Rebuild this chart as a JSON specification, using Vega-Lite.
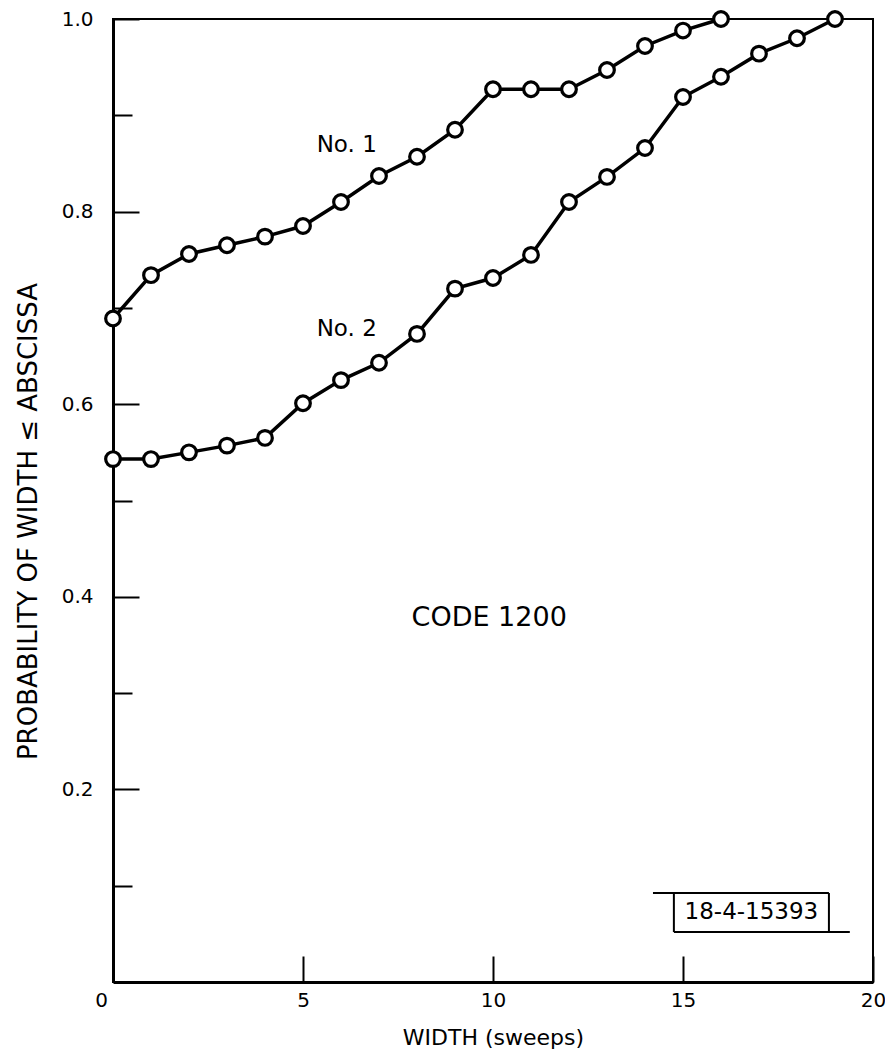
{
  "$schema": "https://vega.github.io/schema/vega-lite/v6.json",
  "width": 760,
  "height": 963,
  "autosize": {"type": "none"},
  "padding": {"left": 113, "top": 19, "right": 12, "bottom": 81},
  "background": "white",
  "config": {
    "view": {"stroke": "black", "strokeWidth": 2},
    "font": "DejaVu Sans",
    "axis": {
      "domainColor": "black",
      "domainWidth": 3,
      "tickColor": "black",
      "tickWidth": 2,
      "labelColor": "black",
      "titleColor": "black",
      "labelFont": "DejaVu Sans",
      "titleFont": "DejaVu Sans",
      "titleFontWeight": "normal",
      "grid": false
    }
  },
  "datasets": {
    "curves": [
      {"series": "No. 1", "width": 0, "p": 0.689},
      {"series": "No. 1", "width": 1, "p": 0.734},
      {"series": "No. 1", "width": 2, "p": 0.756},
      {"series": "No. 1", "width": 3, "p": 0.765},
      {"series": "No. 1", "width": 4, "p": 0.774},
      {"series": "No. 1", "width": 5, "p": 0.785},
      {"series": "No. 1", "width": 6, "p": 0.81},
      {"series": "No. 1", "width": 7, "p": 0.837},
      {"series": "No. 1", "width": 8, "p": 0.857},
      {"series": "No. 1", "width": 9, "p": 0.885},
      {"series": "No. 1", "width": 10, "p": 0.927},
      {"series": "No. 1", "width": 11, "p": 0.927},
      {"series": "No. 1", "width": 12, "p": 0.927},
      {"series": "No. 1", "width": 13, "p": 0.947},
      {"series": "No. 1", "width": 14, "p": 0.972},
      {"series": "No. 1", "width": 15, "p": 0.988},
      {"series": "No. 1", "width": 16, "p": 1.0},
      {"series": "No. 2", "width": 0, "p": 0.543},
      {"series": "No. 2", "width": 1, "p": 0.543},
      {"series": "No. 2", "width": 2, "p": 0.55},
      {"series": "No. 2", "width": 3, "p": 0.557},
      {"series": "No. 2", "width": 4, "p": 0.565},
      {"series": "No. 2", "width": 5, "p": 0.601},
      {"series": "No. 2", "width": 6, "p": 0.625},
      {"series": "No. 2", "width": 7, "p": 0.643},
      {"series": "No. 2", "width": 8, "p": 0.673},
      {"series": "No. 2", "width": 9, "p": 0.72},
      {"series": "No. 2", "width": 10, "p": 0.731},
      {"series": "No. 2", "width": 11, "p": 0.755},
      {"series": "No. 2", "width": 12, "p": 0.81},
      {"series": "No. 2", "width": 13, "p": 0.836},
      {"series": "No. 2", "width": 14, "p": 0.866},
      {"series": "No. 2", "width": 15, "p": 0.919},
      {"series": "No. 2", "width": 16, "p": 0.94},
      {"series": "No. 2", "width": 17, "p": 0.964},
      {"series": "No. 2", "width": 18, "p": 0.98},
      {"series": "No. 2", "width": 19, "p": 1.0}
    ],
    "notes": [
      {"width": 6.15, "p": 0.869, "text": "No. 1", "size": 23},
      {"width": 6.15, "p": 0.678, "text": "No. 2", "size": 23},
      {"width": 9.9, "p": 0.378, "text": "CODE 1200", "size": 27},
      {"width": 16.8, "p": 0.0725, "text": "18-4-15393", "size": 23}
    ],
    "stamp": [
      {"x1": 14.21, "x2": 18.84, "y1": 0.0924, "y2": 0.0924},
      {"x1": 14.76, "x2": 19.39, "y1": 0.0519, "y2": 0.0519},
      {"x1": 14.76, "x2": 14.76, "y1": 0.0519, "y2": 0.0924},
      {"x1": 18.84, "x2": 18.84, "y1": 0.0519, "y2": 0.0924}
    ]
  },
  "layer": [
    {
      "data": {"name": "curves"},
      "mark": {"type": "line", "color": "black", "strokeWidth": 3.5, "clip": false},
      "encoding": {
        "x": {
          "field": "width",
          "type": "quantitative",
          "scale": {"domain": [0, 20], "nice": false, "zero": false},
          "axis": {
            "title": "WIDTH (sweeps)",
            "titleFontSize": 22,
            "titlePadding": 17,
            "values": [0, 5, 10, 15, 20],
            "tickSize": -26,
            "labelFontSize": 20,
            "labelPadding": 34,
            "labelOffset": {"condition": {"test": "datum.value == 0", "value": -12}, "value": 0},
            "labelFlush": false
          }
        },
        "y": {
          "field": "p",
          "type": "quantitative",
          "scale": {"domain": [0, 1], "nice": false},
          "axis": {
            "title": "PROBABILITY OF WIDTH ≤ ABSCISSA",
            "titleFontSize": 26,
            "titlePadding": 20,
            "titleY": 502,
            "values": [0.1, 0.2, 0.3, 0.4, 0.5, 0.6, 0.7, 0.8, 0.9, 1.0],
            "tickSize": {"condition": {"test": "round(datum.value * 10) % 2 == 0", "value": -26}, "value": -19},
            "labelExpr": "round(datum.value * 10) % 2 == 0 ? format(datum.value, '.1f') : ''",
            "labelFontSize": 20,
            "labelPadding": 46,
            "labelFlush": false
          }
        },
        "detail": {"field": "series"}
      }
    },
    {
      "data": {"name": "curves"},
      "mark": {"type": "point", "shape": "circle", "filled": true, "fill": "white", "stroke": "black", "strokeWidth": 3.2, "size": 215, "opacity": 1, "clip": false},
      "encoding": {
        "x": {"field": "width", "type": "quantitative"},
        "y": {"field": "p", "type": "quantitative"}
      }
    },
    {
      "data": {"name": "notes"},
      "mark": {"type": "text", "color": "black", "align": "center", "baseline": "middle", "font": "DejaVu Sans"},
      "encoding": {
        "x": {"field": "width", "type": "quantitative"},
        "y": {"field": "p", "type": "quantitative"},
        "text": {"field": "text"},
        "size": {"field": "size", "type": "quantitative", "scale": null}
      }
    },
    {
      "data": {"name": "stamp"},
      "mark": {"type": "rule", "color": "black", "strokeWidth": 2},
      "encoding": {
        "x": {"field": "x1", "type": "quantitative"},
        "x2": {"field": "x2"},
        "y": {"field": "y1", "type": "quantitative"},
        "y2": {"field": "y2"}
      }
    }
  ]
}
